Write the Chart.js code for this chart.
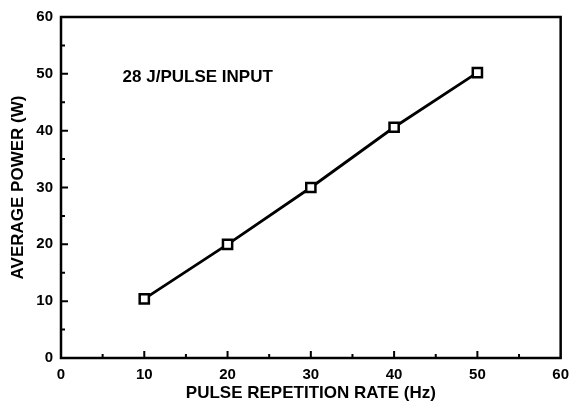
<!DOCTYPE html>
<html>
<head>
<meta charset="utf-8">
<script src="https://cdn.jsdelivr.net/npm/chart.js@4.4.1/dist/chart.umd.min.js"></script>
<style>
  html, body { margin: 0; padding: 0; background: #fff; }
  #wrap { width: 577px; height: 405px; }
</style>
</head>
<body>
<div id="wrap"><canvas id="chart" width="577" height="405"></canvas></div>
<script>
const rates = [10, 20, 30, 40, 50];
const power = [10.4, 20.0, 30.0, 40.6, 50.2];
const xTicks = [0, 10, 20, 30, 40, 50, 60];
const yTicks = [0, 10, 20, 30, 40, 50, 60];
const note = "28 J/PULSE INPUT";

const FONT = "'Liberation Sans', Arial, sans-serif";

// frame, inward ticks and the note inside the plot
const framePlugin = {
  id: "frame",
  afterDraw(chart) {
    const { ctx, chartArea: a, scales } = chart;
    const x = scales.x, y = scales.y;
    ctx.save();
    ctx.strokeStyle = "#000";
    ctx.lineWidth = 2.5;
    ctx.strokeRect(a.left, a.top, a.right - a.left, a.bottom - a.top);
    ctx.lineWidth = 2;
    ctx.beginPath();
    for (let v = 5; v < 60; v += 5) {
      const len = v % 10 === 0 ? 7 : 4;
      const px = x.getPixelForValue(v);
      ctx.moveTo(px, a.bottom);
      ctx.lineTo(px, a.bottom - len);
      const py = y.getPixelForValue(v);
      ctx.moveTo(a.left, py);
      ctx.lineTo(a.left + len, py);
    }
    ctx.stroke();
    ctx.fillStyle = "#000";
    ctx.font = "bold 17px " + FONT;
    ctx.textAlign = "left";
    ctx.textBaseline = "middle";
    ctx.fillText(note, x.getPixelForValue(7.4), y.getPixelForValue(49.4));
    ctx.restore();
  }
};

new Chart(document.getElementById("chart"), {
  type: "line",
  data: {
    datasets: [{
      data: rates.map((r, i) => ({ x: r, y: power[i] })),
      borderColor: "#000",
      borderWidth: 2.8,
      pointStyle: "rect",
      pointRadius: 6.5,
      pointBorderWidth: 2.5,
      pointBackgroundColor: "#fff",
      pointBorderColor: "#000",
      tension: 0
    }]
  },
  options: {
    responsive: false,
    animation: false,
    layout: { padding: { left: 0, top: 16, right: 11, bottom: 0 } },
    plugins: { legend: { display: false }, tooltip: { enabled: false } },
    scales: {
      x: {
        type: "linear",
        min: 0, max: 60,
        afterBuildTicks(s) { s.ticks = xTicks.map(v => ({ value: v })); },
        afterFit(s) { s.height = 47; },
        grid: { display: false, drawTicks: false },
        border: { display: false },
        ticks: { color: "#000", padding: 8, font: { family: FONT, size: 15, weight: "bold" } },
        title: {
          display: true,
          text: "PULSE REPETITION RATE (Hz)",
          color: "#000",
          padding: { top: 0, bottom: 1 },
          font: { family: FONT, size: 17, weight: "bold" }
        }
      },
      y: {
        type: "linear",
        min: 0, max: 60,
        afterBuildTicks(s) { s.ticks = yTicks.map(v => ({ value: v })); },
        afterFit(s) { s.width = 61; },
        grid: { display: false, drawTicks: false },
        border: { display: false },
        ticks: { color: "#000", padding: 8, font: { family: FONT, size: 15, weight: "bold" } },
        title: {
          display: true,
          text: "AVERAGE POWER (W)",
          color: "#000",
          padding: { top: 8, bottom: 0 },
          font: { family: FONT, size: 17, weight: "bold" }
        }
      }
    }
  },
  plugins: [framePlugin]
});
</script>
</body>
</html>
